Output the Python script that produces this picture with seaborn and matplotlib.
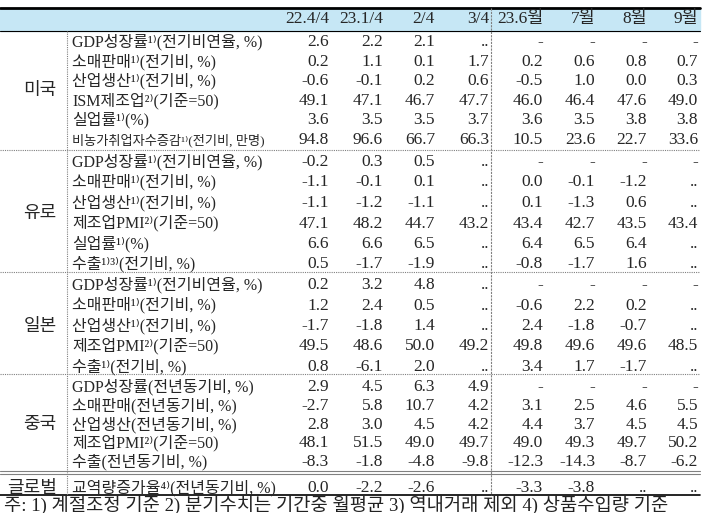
import matplotlib
matplotlib.use("Agg")
import matplotlib.pyplot as plt
import seaborn as sns

sns.set_theme(style="white")
FAM = ['Liberation Serif', 'Noto Sans CJK KR', 'DejaVu Sans']
plt.rcParams['font.family'] = FAM

columns = ["22.4/4", "23.1/4", "2/4", "3/4", "23.6월", "7월", "8월", "9월"]
regions = ["미국", "유로", "일본", "중국", "글로벌"]

us_labels = ["GDP성장률¹⁾(전기비연율, %)", "소매판매¹⁾(전기비, %)", "산업생산¹⁾(전기비, %)",
             "ISM제조업²⁾(기준=50)", "실업률¹⁾(%)", "비농가취업자수증감¹⁾(전기비, 만명)"]
us_values = [["2.6", "2.2", "2.1", "..", "-", "-", "-", "-"],
             ["0.2", "1.1", "0.1", "1.7", "0.2", "0.6", "0.8", "0.7"],
             ["-0.6", "-0.1", "0.2", "0.6", "-0.5", "1.0", "0.0", "0.3"],
             ["49.1", "47.1", "46.7", "47.7", "46.0", "46.4", "47.6", "49.0"],
             ["3.6", "3.5", "3.5", "3.7", "3.6", "3.5", "3.8", "3.8"],
             ["94.8", "96.6", "66.7", "66.3", "10.5", "23.6", "22.7", "33.6"]]

eu_labels = ["GDP성장률¹⁾(전기비연율, %)", "소매판매¹⁾(전기비, %)", "산업생산¹⁾(전기비, %)",
             "제조업PMI²⁾(기준=50)", "실업률¹⁾(%)", "수출¹⁾³⁾(전기비, %)"]
eu_values = [["-0.2", "0.3", "0.5", "..", "-", "-", "-", "-"],
             ["-1.1", "-0.1", "0.1", "..", "0.0", "-0.1", "-1.2", ".."],
             ["-1.1", "-1.2", "-1.1", "..", "0.1", "-1.3", "0.6", ".."],
             ["47.1", "48.2", "44.7", "43.2", "43.4", "42.7", "43.5", "43.4"],
             ["6.6", "6.6", "6.5", "..", "6.4", "6.5", "6.4", ".."],
             ["0.5", "-1.7", "-1.9", "..", "-0.8", "-1.7", "1.6", ".."]]

jp_labels = ["GDP성장률¹⁾(전기비연율, %)", "소매판매¹⁾(전기비, %)", "산업생산¹⁾(전기비, %)",
             "제조업PMI²⁾(기준=50)", "수출¹⁾(전기비, %)"]
jp_values = [["0.2", "3.2", "4.8", "..", "-", "-", "-", "-"],
             ["1.2", "2.4", "0.5", "..", "-0.6", "2.2", "0.2", ".."],
             ["-1.7", "-1.8", "1.4", "..", "2.4", "-1.8", "-0.7", ".."],
             ["49.5", "48.6", "50.0", "49.2", "49.8", "49.6", "49.6", "48.5"],
             ["0.8", "-6.1", "2.0", "..", "3.4", "1.7", "-1.7", ".."]]

cn_labels = ["GDP성장률(전년동기비, %)", "소매판매(전년동기비, %)", "산업생산(전년동기비, %)",
             "제조업PMI²⁾(기준=50)", "수출(전년동기비, %)"]
cn_values = [["2.9", "4.5", "6.3", "4.9", "-", "-", "-", "-"],
             ["-2.7", "5.8", "10.7", "4.2", "3.1", "2.5", "4.6", "5.5"],
             ["2.8", "3.0", "4.5", "4.2", "4.4", "3.7", "4.5", "4.5"],
             ["48.1", "51.5", "49.0", "49.7", "49.0", "49.3", "49.7", "50.2"],
             ["-8.3", "-1.8", "-4.8", "-9.8", "-12.3", "-14.3", "-8.7", "-6.2"]]

gl_labels = ["교역량증가율⁴⁾(전년동기비, %)"]
gl_values = [["0.0", "-2.2", "-2.6", "..", "-3.3", "-3.8", "..", ".."]]

footnote = "주: 1) 계절조정 기준 2) 분기수치는 기간중 월평균 3) 역내거래 제외 4) 상품수입량 기준"

W, H = 703, 513
fig = plt.figure(figsize=(W / 100, H / 100), dpi=100)
ax = fig.add_axes([0, 0, 1, 1])
ax.set_xlim(0, W)
ax.set_ylim(H, 0)
ax.axis("off")

ax.fill_between([0, 700], 8, 31, color="#c6e7f5", zorder=0)
ax.plot([0, 700], [8, 8], color="black", lw=2)
ax.plot([0, 700], [31, 31], color="black", lw=0.8)

col_right = [329, 383, 435, 489, 543, 595, 647, 698]
for c, x in zip(columns, col_right):
    ax.text(x, 19, c, ha="right", va="center", fontsize=12.5)

sections = [(us_labels, us_values, 42, 19.6, 150),
            (eu_labels, eu_values, 162, 20.5, 272),
            (jp_labels, jp_values, 285, 20.5, 374),
            (cn_labels, cn_values, 387, 18.8, 472),
            (gl_labels, gl_values, 488, 20, 495)]

for (labels, values, y0, step, ybot), reg in zip(sections, regions):
    ys = [y0 + i * step for i in range(len(labels))]
    ax.text(40 if reg != "글로벌" else 32, (ys[0] + ys[-1]) / 2, reg, ha="center", va="center", fontsize=13)
    for lab, row, y in zip(labels, values, ys):
        fs = 11.5 if len(lab) < 20 else 10.5
        if lab.startswith("비농가"):
            fs = 9.5
        ax.text(72, y, lab, ha="left", va="center", fontsize=fs)
        for v, x in zip(row, col_right):
            ax.text(x, y, v, ha="right", va="center", fontsize=12.5)
    if reg == "중국":
        ax.plot([0, 700], [ybot - 1, ybot - 1], color="gray", lw=0.8)
        ax.plot([0, 700], [ybot + 2, ybot + 2], color="gray", lw=0.8)
    elif reg == "글로벌":
        ax.plot([0, 700], [ybot, ybot], color="black", lw=1.2)
    else:
        ax.plot([0, 700], [ybot, ybot], color="gray", lw=0.8, ls=(0, (1, 1)))

ax.plot([67, 67], [31, 495], color="gray", lw=0.8, ls=(0, (1, 1)))
ax.plot([491, 491], [8, 495], color="gray", lw=0.8, ls=(0, (2, 1)))

ax.text(4, 506, footnote, ha="left", va="center", fontsize=13.5, color="#222222")

fig.savefig("out.png", dpi=100)
